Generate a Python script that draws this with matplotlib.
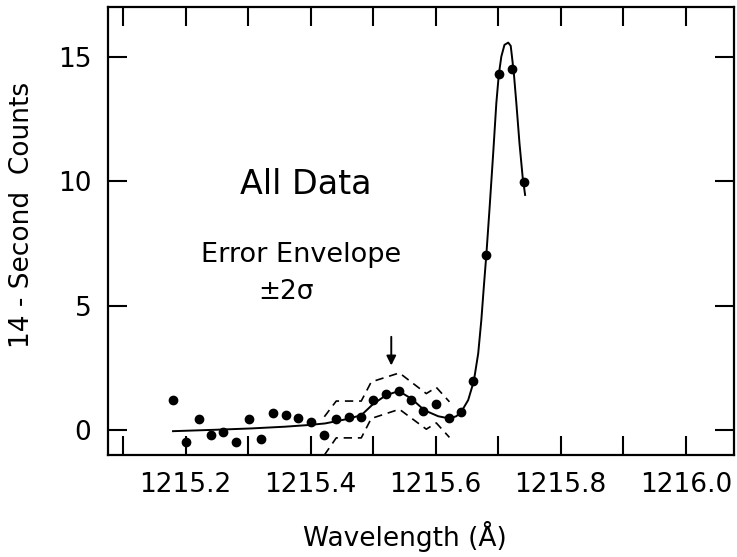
import matplotlib
matplotlib.use("Agg")
import matplotlib.pyplot as plt

# Data points (wavelength in Angstrom, 14-second counts)
wave_pts = [1215.180, 1215.200, 1215.221, 1215.240, 1215.260, 1215.280, 1215.301,
            1215.321, 1215.340, 1215.361, 1215.380, 1215.400, 1215.421, 1215.440,
            1215.461, 1215.480, 1215.500, 1215.521, 1215.541, 1215.561, 1215.580,
            1215.600, 1215.621, 1215.641, 1215.660, 1215.681, 1215.701, 1215.722,
            1215.742]
count_pts = [1.22, -0.48, 0.43, -0.20, -0.07, -0.46, 0.43,
             -0.36, 0.67, 0.62, 0.50, 0.31, -0.20, 0.46,
             0.51, 0.51, 1.23, 1.45, 1.57, 1.21, 0.76,
             1.07, 0.50, 0.75, 1.97, 7.04, 14.30, 14.53,
             9.98]

# Fitted model curve
wave_fit = [1215.180, 1215.252, 1215.305, 1215.359, 1215.393, 1215.423, 1215.455,
            1215.481, 1215.500, 1215.521, 1215.541, 1215.561, 1215.582, 1215.604,
            1215.622, 1215.633, 1215.641, 1215.652, 1215.661, 1215.668, 1215.673,
            1215.677, 1215.681, 1215.686, 1215.692, 1215.697, 1215.701, 1215.705,
            1215.710, 1215.716, 1215.720, 1215.722, 1215.725, 1215.729, 1215.734,
            1215.739, 1215.743]
count_fit = [-0.04, 0.02, 0.07, 0.14, 0.20, 0.27, 0.43,
             0.60, 1.05, 1.41, 1.57, 1.27, 0.80, 0.56,
             0.47, 0.56, 0.74, 1.21, 1.97, 3.08, 4.42,
             5.76, 7.04, 8.85, 11.13, 13.14, 14.30, 15.01,
             15.48, 15.57, 15.44, 15.01, 14.34, 13.14, 11.53,
             10.19, 9.45]

# Error envelope (+/- 2 sigma)
wave_env = [1215.422, 1215.441, 1215.481, 1215.497, 1215.542, 1215.585, 1215.601, 1215.622]
env_upper = [0.54, 1.17, 1.17, 1.94, 2.30, 1.47, 1.72, 1.14]
env_lower = [-1.00, -0.31, -0.31, 0.47, 0.84, 0.04, 0.29, -0.29]

x_ticks = [1215.2, 1215.4, 1215.6, 1215.8, 1216.0]
x_minor = [1215.1, 1215.3, 1215.5, 1215.7, 1215.9]
x_ticklabels = ["1215.2", "1215.4", "1215.6", "1215.8", "1216.0"]
y_ticks = [0, 5, 10, 15]

arrow_x = 1215.529

plt.rcParams['font.family'] = ['DejaVu Sans']
fig = plt.figure(figsize=(7.37, 5.57), dpi=100)
ax = fig.add_axes([0.1465, 0.183, 0.8494, 0.8044])

ax.plot(wave_fit, count_fit, color='black', lw=1.4)
ax.plot(wave_env, env_upper, color='black', lw=1.2, ls=(0, (5, 3.5)))
ax.plot(wave_env, env_lower, color='black', lw=1.2, ls=(0, (5, 3.5)))
ax.plot(wave_pts, count_pts, 'o', color='black', ms=6, mec='black')

ax.annotate('', xy=(arrow_x, 2.6), xytext=(arrow_x, 3.75),
            arrowprops=dict(arrowstyle='-|>', color='black', lw=1.4,
                            mutation_scale=14, shrinkA=0, shrinkB=0))

ax.set_xlim(1215.076, 1216.077)
ax.set_ylim(-1.0, 17.0)
ax.set_xticks(x_ticks)
ax.set_xticklabels(x_ticklabels)
ax.set_xticks(x_minor, minor=True)
ax.set_yticks(y_ticks)
ax.tick_params(axis='both', which='both', direction='in', top=True, right=True,
               length=13.5, width=1.5, labelsize=19)
ax.tick_params(axis='x', pad=12)
ax.tick_params(axis='y', pad=12)
for s in ax.spines.values():
    s.set_linewidth(1.6)

ax.set_xlabel('Wavelength (Å)', fontsize=19)
ax.xaxis.set_label_coords(0.474, -0.148)
ax.set_ylabel('14 - Second  Counts', fontsize=19)
ax.yaxis.set_label_coords(-0.117, 0.536)

ax.text(1215.393, 9.85, 'All Data', fontsize=24, ha='center', va='center')
ax.text(1215.385, 7.05, 'Error Envelope', fontsize=19.5, ha='center', va='center')
ax.text(1215.36, 5.55, '±2σ', fontsize=19, ha='center', va='center')

fig.savefig('out.png', dpi=100)
